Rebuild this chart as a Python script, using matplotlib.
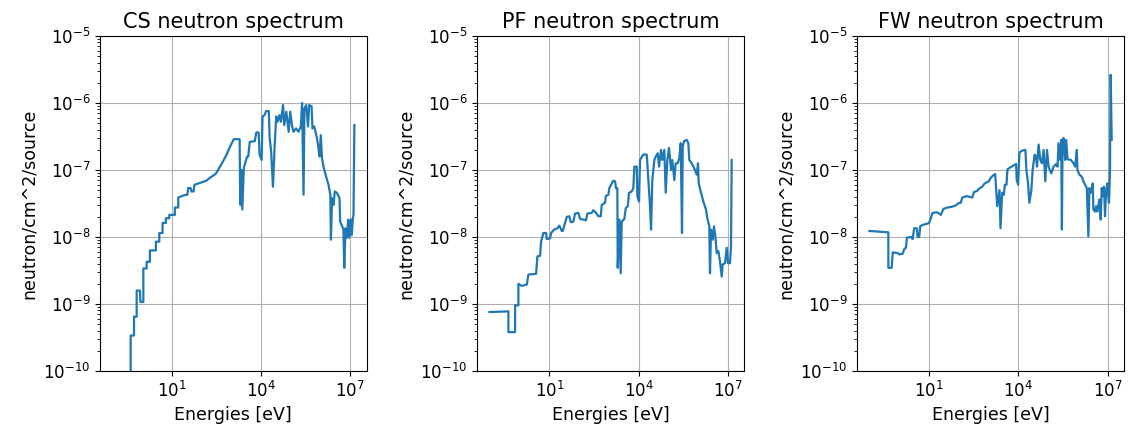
import numpy as np
import matplotlib
matplotlib.use("Agg")
import matplotlib.pyplot as plt
from matplotlib import ticker

# Values: log10(energy [eV]) and log10(flux)
cs_logE = [-1.0, -0.38, -0.376, -0.264, -0.264, -0.174, -0.174, -0.063, -0.05, 0.05, 0.05, 0.161, 0.161,
           0.272, 0.272, 0.473, 0.473, 0.587, 0.587, 0.698, 0.698, 0.809, 0.809, 0.923, 0.923, 1.11, 1.11,
           1.225, 1.225, 1.47, 1.53, 1.56, 1.64, 1.67, 1.74, 1.77, 1.97, 2.17, 2.31, 2.48, 2.55, 2.72, 2.85,
           2.98, 3.09, 3.29, 3.31, 3.35, 3.38, 3.43, 3.54, 3.58, 3.63, 3.80, 3.85, 3.93, 3.96, 4.03, 4.06,
           4.13, 4.18, 4.27, 4.30, 4.35, 4.41, 4.47, 4.52, 4.57, 4.63, 4.68, 4.75, 4.79, 4.86, 4.94, 4.99,
           5.05, 5.10, 5.19, 5.27, 5.35, 5.39, 5.44, 5.47, 5.53, 5.59, 5.63, 5.71, 5.74, 5.80, 5.89, 5.94,
           5.98, 6.02, 6.06, 6.11, 6.20, 6.28, 6.34, 6.36, 6.40, 6.45, 6.49, 6.56, 6.65, 6.67, 6.74, 6.78,
           6.81, 6.85, 6.90, 6.94, 6.98, 7.03, 7.06, 7.10, 7.12, 7.15]
cs_logF = [-13.0, -13.0, -9.47, -9.47, -9.19, -9.19, -8.80, -8.80, -8.97, -8.97, -8.47, -8.47, -8.37,
           -8.37, -8.20, -8.20, -8.07, -8.07, -7.94, -7.94, -7.79, -7.79, -7.72, -7.72, -7.67, -7.67, -7.56,
           -7.56, -7.41, -7.37, -7.37, -7.27, -7.27, -7.32, -7.32, -7.22, -7.19, -7.16, -7.11, -7.06, -7.01,
           -6.88, -6.77, -6.64, -6.54, -6.54, -7.52, -7.00, -7.59, -6.97, -6.80, -6.80, -6.58, -6.57, -6.44,
           -6.44, -6.77, -6.85, -6.20, -6.18, -6.12, -6.12, -6.52, -6.72, -7.25, -6.62, -6.20, -6.28, -6.18,
           -6.28, -6.03, -6.33, -6.13, -6.43, -6.13, -6.33, -6.43, -6.38, -6.43, -6.35, -6.00, -7.37, -6.08,
           -6.03, -6.35, -6.03, -6.05, -6.38, -6.35, -6.52, -6.67, -6.80, -6.48, -6.82, -6.95, -7.10, -7.22,
           -7.37, -8.04, -7.42, -7.52, -7.32, -7.34, -7.42, -7.77, -7.84, -7.89, -8.46, -7.87, -8.01, -7.74,
           -8.01, -7.74, -7.97, -7.72, -7.67, -6.33]

pf_logE = [-1.018, -0.379, -0.379, -0.154, -0.154, -0.043, -0.043, 0.071, 0.24, 0.294, 0.553, 0.596, 0.687,
           0.72, 0.798, 0.889, 0.913, 1.024, 1.057, 1.158, 1.27, 1.336, 1.417, 1.45, 1.528, 1.585, 1.673,
           1.72, 1.807, 1.864, 1.975, 2.033, 2.234, 2.278, 2.426, 2.48, 2.571, 2.648, 2.729, 2.763, 2.874,
           2.897, 2.985, 3.018, 3.099, 3.153, 3.21, 3.243, 3.287, 3.30, 3.355, 3.40, 3.435, 3.523, 3.57,
           3.637, 3.681, 3.771, 3.825, 3.859, 3.94, 3.96, 4.017, 4.05, 4.162, 4.276, 4.31, 4.387, 4.421,
           4.465, 4.532, 4.579, 4.646, 4.69, 4.757, 4.80, 4.868, 4.915, 4.969, 5.026, 5.094, 5.137, 5.205,
           5.25, 5.32, 5.373, 5.42, 5.463, 5.487, 5.53, 5.622, 5.676, 5.709, 5.79, 5.90, 5.958, 6.002,
           6.025, 6.092, 6.18, 6.27, 6.315, 6.382, 6.405, 6.44, 6.496, 6.54, 6.584, 6.631, 6.685, 6.742,
           6.799, 6.832, 6.91, 6.967, 7.011, 7.078, 7.112, 7.135]
pf_logF = [-9.12, -9.11, -9.42, -9.42, -9.02, -9.02, -8.70, -8.73, -8.71, -8.56, -8.55, -8.29, -8.28,
           -8.07, -7.94, -7.94, -8.03, -8.02, -7.94, -7.89, -7.87, -7.83, -7.91, -7.91, -7.79, -7.70, -7.69,
           -7.78, -7.77, -7.65, -7.64, -7.73, -7.75, -7.65, -7.64, -7.60, -7.64, -7.69, -7.69, -7.52, -7.49,
           -7.39, -7.37, -7.27, -7.20, -7.16, -7.17, -7.27, -7.27, -8.46, -7.74, -8.54, -7.77, -7.73, -7.57,
           -7.54, -7.34, -7.32, -7.27, -6.95, -6.95, -7.39, -7.47, -6.85, -6.77, -6.77, -7.00, -7.54, -7.89,
           -7.15, -6.85, -6.80, -6.75, -6.95, -6.70, -6.85, -6.70, -7.34, -6.85, -6.67, -7.00, -6.85, -7.15,
           -6.90, -6.90, -6.82, -6.60, -7.94, -6.65, -6.57, -6.55, -6.60, -6.85, -6.90, -7.00, -7.07, -6.90,
           -7.20, -7.32, -7.47, -7.59, -7.72, -7.84, -8.54, -7.89, -8.04, -7.84, -7.99, -8.24, -8.21, -8.36,
           -8.59, -8.41, -8.39, -8.16, -8.39, -8.39, -8.14, -6.85]

fw_logE = [-1.007, -0.371, -0.371, -0.258, -0.224, -0.057, 0.0, 0.11, 0.164, 0.22, 0.254, 0.388, 0.445,
           0.498, 0.589, 0.612, 0.666, 0.70, 0.779, 0.946, 1.0, 1.057, 1.114, 1.258, 1.334, 1.391, 1.482,
           1.615, 1.749, 1.893, 2.003, 2.06, 2.117, 2.261, 2.452, 2.505, 2.619, 2.672, 2.786, 2.863, 3.007,
           3.064, 3.154, 3.22, 3.287, 3.365, 3.398, 3.454, 3.51, 3.543, 3.599, 3.632, 3.766, 3.922, 3.943,
           3.99, 4.033, 4.124, 4.234, 4.268, 4.324, 4.368, 4.435, 4.478, 4.545, 4.592, 4.625, 4.679, 4.736,
           4.792, 4.846, 4.903, 4.96, 5.013, 5.104, 5.181, 5.271, 5.314, 5.348, 5.405, 5.438, 5.461, 5.482,
           5.515, 5.572, 5.605, 5.649, 5.763, 5.85, 5.906, 5.963, 5.983, 6.05, 6.13, 6.184, 6.241, 6.298,
           6.351, 6.385, 6.432, 6.498, 6.518, 6.575, 6.609, 6.652, 6.719, 6.766, 6.799, 6.833, 6.876, 6.91,
           6.943, 6.987, 7.02, 7.043, 7.077, 7.10, 7.134]
fw_logF = [-7.91, -7.93, -8.46, -8.46, -8.23, -8.24, -8.26, -8.25, -8.18, -8.16, -8.01, -8.00, -8.03,
           -7.87, -7.87, -8.00, -8.00, -7.84, -7.82, -7.80, -7.79, -7.72, -7.64, -7.63, -7.65, -7.67, -7.58,
           -7.56, -7.55, -7.53, -7.49, -7.49, -7.41, -7.39, -7.41, -7.33, -7.31, -7.28, -7.25, -7.20, -7.17,
           -7.12, -7.08, -7.06, -7.54, -7.30, -7.87, -7.34, -7.37, -7.22, -7.22, -6.99, -6.95, -6.91, -7.15,
           -7.22, -6.74, -6.71, -6.70, -7.00, -7.20, -7.49, -7.30, -7.00, -6.77, -6.80, -6.95, -6.62, -6.85,
           -6.90, -6.70, -7.17, -6.70, -6.95, -7.05, -6.95, -6.91, -6.95, -6.60, -6.85, -6.55, -7.89, -6.65,
           -6.52, -6.85, -6.55, -6.84, -6.85, -6.90, -6.95, -6.70, -7.00, -7.07, -7.10, -7.17, -7.22, -7.27,
           -7.99, -7.27, -7.34, -7.20, -7.59, -7.62, -7.54, -7.62, -7.44, -7.74, -7.27, -7.39, -7.25, -7.69,
           -7.34, -7.20, -7.39, -7.49, -7.00, -5.58, -6.55]

titles = ["CS neutron spectrum", "PF neutron spectrum", "FW neutron spectrum"]
series = [(cs_logE, cs_logF), (pf_logE, pf_logF), (fw_logE, fw_logF)]
x_major = [1e1, 1e4, 1e7]

fig = plt.figure(figsize=(11.42, 4.29), dpi=100)
lefts = [100 / 1142, 477.3 / 1142, 857.3 / 1142]
for left, title, (lx, ly) in zip(lefts, titles, series):
    ax = fig.add_axes([left, 58 / 429, 266.5 / 1142, 335 / 429])
    energies = 10.0 ** np.array(lx)
    flux = 10.0 ** np.array(ly)
    ax.plot(energies, flux, color="C0", linewidth=1.6)
    ax.set_xscale("log")
    ax.set_yscale("log")
    ax.set_ylim(1e-10, 1e-5)
    ax.xaxis.set_major_locator(ticker.FixedLocator(x_major))
    ax.xaxis.set_minor_locator(ticker.NullLocator())
    ax.grid(True, which="major")
    ax.set_title(title, fontsize=15)
    ax.set_xlabel("Energies [eV]", fontsize=12.5)
    ax.set_ylabel("neutron/cm^2/source", fontsize=12.5)
    ax.tick_params(labelsize=12)

fig.savefig("out.png", dpi=100)
